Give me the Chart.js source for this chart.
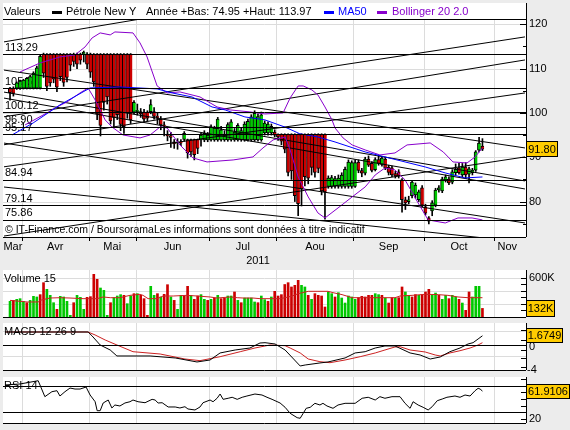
<!DOCTYPE html>
<html lang="fr">
<head>
<meta charset="UTF-8">
<title>Pétrole New York</title>
<script src="https://cdn.jsdelivr.net/npm/chart.js"></script>
<style>
  body { margin: 0; background: #ececec; }
  #wrap { position: relative; width: 570px; height: 430px; background: #ececec; }
  canvas { position: absolute; left: 0; }
</style>
</head>
<body>
<div id="wrap">
  <canvas id="priceChart" width="570" height="265" style="top:0"></canvas>
  <canvas id="volChart" width="570" height="57" style="top:265px"></canvas>
  <canvas id="macdChart" width="570" height="52" style="top:322px"></canvas>
  <canvas id="rsiChart" width="570" height="56" style="top:374px"></canvas>
</div>
<script>
// ---- data (x = trading day index, Mar 2011 .. Oct 2011) ----
const monthNames = ['Mar', 'Avr', 'Mai', 'Jun', 'Jul', 'Aou', 'Sep', 'Oct', 'Nov'];
const monthBounds = [-1.8, 3.5, 23.5, 37.5, 59.5, 79.5, 102.5, 123.5, 144.5, 152.3];

const opens = [
  105.6, 105.6, 105.6, 105.6,
  105.6, 105.6, 105.6, 105.6, 105.6, 105.6, 113.29, 113.29, 113.29, 113.29, 113.29, 113.29, 113.29, 113.29, 113.29, 113.29, 113.29, 113.29, 113.29, 113.29,
  113.29, 113.29, 113.29, 113.29, 113.29, 113.29, 113.29, 113.29, 113.29, 113.29, 113.29, 113.29, 113.29, 100.2,
  100.3, 100.3, 100.2, 100.2, 100.3, 100.3, 99.3, 98.6, 97.3, 95.0, 94.9, 93.5, 93.2, 93.4, 94.0, 94.0, 94.0, 94.0, 94.0, 93.9, 93.9, 93.9,
  93.9, 93.9, 93.9, 93.9, 93.9, 93.9, 93.9, 93.9, 93.9, 93.9, 93.9, 93.9, 93.9, 93.9, 93.9, 93.9, 95.5, 95.5, 95.5, 95.7,
  95.17, 95.17, 95.17, 95.17, 95.17, 95.17, 95.17, 95.17, 95.17, 95.17, 95.17, 95.17, 95.17, 95.17, 95.17, 83.4, 83.4, 83.4, 83.4, 83.4, 83.4, 83.4, 83.4,
  83.4, 88.9, 87.0, 86.4, 89.6, 88.6, 87.2, 89.5, 88.4, 89.6, 87.8, 87.6, 86.3, 86.7, 84.9, 80.4, 80.0, 81.3, 81.5, 80.4, 83.1,
  78.8, 76.3, 77.9, 79.2, 82.6, 82.4, 84.9, 85.1, 84.4, 86.5, 87.6, 86.0, 87.8, 86.2, 86.5, 87.1, 91.6, 92.5
];
const highs = [
  105.8, 105.9, 107.0, 107.4,
  107.6, 108.0, 108.5, 109.3, 110.6, 113.0, 113.5, 113.4, 113.4, 113.4, 113.4, 113.4, 113.4, 113.4, 113.4, 113.5, 113.5, 113.5, 113.97, 113.6,
  113.5, 113.4, 113.4, 113.4, 113.4, 113.4, 113.4, 113.4, 113.4, 113.4, 113.4, 113.4, 113.4, 102.8,
  102.0, 101.0, 100.8, 100.5, 103.0, 101.2, 100.0, 99.2, 98.0, 96.0, 95.6, 94.0, 94.2, 94.0, 95.8, 94.1, 94.1, 94.1, 94.1, 95.5, 96.0, 95.6,
  97.3, 97.0, 99.0, 97.0, 96.0, 97.8, 98.5, 96.5, 97.6, 96.6, 98.0, 98.6, 99.6, 100.5, 99.8, 100.2, 98.2, 98.0, 97.5, 96.2,
  95.3, 95.3, 95.3, 95.3, 95.3, 95.3, 95.3, 95.3, 95.3, 95.3, 95.3, 95.3, 95.3, 95.3, 95.3, 85.8, 85.9, 85.7, 86.0, 86.5, 87.8, 89.4, 89.2,
  89.4, 89.4, 87.5, 90.0, 90.3, 89.0, 89.9, 90.4, 90.2, 90.0, 88.2, 88.0, 86.8, 87.2, 85.2, 81.0, 81.2, 84.8, 84.2, 82.6, 83.6,
  79.4, 76.6, 80.2, 83.0, 83.6, 85.5, 86.0, 85.6, 87.2, 88.5, 88.6, 88.6, 88.8, 87.8, 87.5, 91.5, 94.5, 94.2
];
const lows = [
  102.9, 103.8, 105.3, 105.3,
  105.4, 105.4, 105.4, 105.4, 105.4, 105.4, 108.0, 105.0, 106.0, 106.8, 104.8, 107.3, 106.0, 107.0, 109.5, 110.5, 110.0, 111.0, 111.5, 110.0,
  108.0, 106.0, 98.5, 94.8, 100.6, 102.0, 97.5, 96.8, 98.5, 96.0, 95.4, 98.8, 97.6, 99.8,
  99.5, 99.0, 98.0, 98.2, 99.8, 98.6, 97.5, 96.2, 94.8, 93.7, 92.2, 92.0, 91.8, 92.6, 93.6, 89.8, 90.2, 89.4, 90.8, 92.5, 93.5, 93.5,
  93.6, 93.6, 93.6, 93.6, 93.6, 93.6, 93.6, 93.6, 93.6, 93.6, 93.6, 93.6, 93.6, 93.6, 93.6, 93.6, 95.0, 95.0, 95.0, 94.6,
  93.8, 92.8, 91.0, 85.8, 85.0, 80.0, 76.8, 79.0, 83.5, 84.0, 86.0, 85.5, 86.5, 81.5, 76.0, 83.0, 83.0, 83.0, 83.0, 83.0, 83.0, 83.0, 83.0,
  83.2, 86.5, 85.6, 86.0, 87.9, 86.7, 86.9, 88.2, 88.0, 87.2, 86.0, 85.6, 85.3, 85.3, 77.6, 78.2, 79.5, 80.8, 80.8, 80.0, 78.8,
  77.0, 74.95, 76.8, 78.8, 82.1, 82.0, 84.4, 83.8, 84.0, 86.0, 86.2, 85.5, 85.2, 84.2, 86.0, 86.8, 91.2, 91.5
];
const closes = [
  104.6, 104.4, 106.8, 107.2,
  107.4, 107.8, 108.2, 109.0, 110.2, 112.8, 109.0, 106.0, 106.8, 107.6, 105.8, 108.2, 106.9, 108.0, 110.8, 111.6, 111.0, 111.9, 113.7, 111.0,
  109.2, 107.0, 99.8, 97.2, 102.4, 103.6, 98.2, 99.0, 99.6, 97.4, 96.9, 100.0, 98.4, 102.4,
  100.6, 99.8, 98.6, 98.8, 101.9, 99.2, 98.9, 97.3, 97.0, 94.8, 94.5, 93.0, 93.3, 93.2, 95.4, 91.0, 91.2, 90.6, 92.0, 95.0, 95.4, 95.0,
  96.9, 96.6, 98.6, 96.2, 95.2, 97.4, 98.0, 95.7, 97.2, 96.0, 97.5, 98.1, 99.1, 99.9, 99.2, 99.6, 97.7, 97.5, 97.0, 95.0,
  94.6, 93.6, 91.8, 86.6, 86.9, 81.3, 79.5, 82.8, 85.6, 85.3, 87.7, 86.6, 87.5, 82.4, 82.2, 85.3, 85.4, 85.2, 85.3, 86.0, 87.3, 88.9, 88.8,
  88.8, 87.0, 86.4, 89.6, 88.2, 87.0, 89.5, 88.6, 89.8, 87.6, 86.6, 86.0, 85.8, 85.8, 80.4, 79.7, 80.4, 84.4, 83.7, 82.2, 79.2,
  77.4, 75.6, 79.7, 82.6, 83.1, 85.1, 85.6, 84.2, 86.7, 87.3, 86.5, 87.8, 86.0, 87.4, 87.1, 91.2, 93.2, 91.8
];

// volume in thousands, volUp: 1 = green bar, 0 = red bar
const volumes = [
  241, 256, 272, 282, 241, 220, 256, 318, 308, 344,
  528, 426, 333, 220, 118, 318, 308, 241, 26, 220,
  333, 303, 118, 303, 313, 656, 580, 446, 410, 26,
  220, 297, 323, 344, 333, 205, 323, 359, 359, 333,
  282, 26, 472, 333, 359, 308, 349, 497, 308, 256,
  118, 333, 323, 472, 333, 272, 323, 344, 272, 256,
  272, 292, 333, 282, 292, 323, 323, 385, 256, 220,
  292, 292, 292, 231, 220, 323, 267, 241, 308, 395,
  323, 344, 500,
  528, 462, 487, 564, 487, 462, 333, 272, 359, 333,
  323, 154, 385, 359, 308, 374, 292, 215, 323, 308,
  272, 297, 318, 308, 333, 333, 359, 344, 333, 292,
  215, 297, 292, 297, 462, 385, 333, 308, 344, 333,
  344, 385, 426, 333, 369, 333, 272, 333, 282, 333,
  308, 272, 215, 103, 385, 308, 472, 472, 132
];
const volUp = [
  1, 0, 1, 1, 1, 0, 1, 1, 1, 0,
  0, 1, 1, 1, 0, 1, 1, 1, 1, 0,
  1, 1, 1, 0, 0, 0, 0, 1, 1, 1,
  0, 1, 1, 1, 0, 1, 1, 0, 1, 0,
  0, 0, 1, 1, 0, 1, 0, 0, 1, 0,
  1, 1, 0, 0, 1, 0, 0, 1, 1, 0,
  1, 0, 1, 0, 0, 1, 1, 0, 1, 0,
  1, 1, 1, 1, 0, 1, 1, 0, 1, 0,
  0, 0, 0,
  0, 0, 0, 0, 1, 1, 0, 1, 0, 0,
  0, 0, 1, 1, 0, 1, 1, 1, 1, 1,
  1, 0, 0, 0, 0, 0, 1, 1, 0, 1,
  0, 0, 1, 0, 0, 1, 1, 0, 0, 1,
  0, 0, 0, 1, 1, 0, 1, 1, 0, 1,
  1, 0, 1, 0, 0, 1, 1, 1, 0
];
const volMa15 = [[0,256],[5.1,231],[8.4,231],[9,256],[11.9,292],[14.9,297],[17.9,292],[21.8,282],[26,282],[27.8,308],[29.9,297],[32.8,297],[35.8,333],[38.8,349],[39.7,333],[41.2,282],[43.9,282],[45.7,323],[48.7,323],[52.8,333],[55.8,323],[59.7,308],[61.8,292],[65.7,308],[67.8,297],[69.6,292],[72.5,292],[74.6,282],[77.6,282],[80.6,282],[82.1,297],[84.2,323],[86,359],[89,395],[91.9,395],[94.9,395],[96.4,374],[99.1,344],[102.1,297],[106.9,297],[109.9,297],[111.9,297],[114.9,297],[116.4,323],[120,333],[123.9,349],[127.8,344],[130.7,333],[133.7,308],[136.7,297],[141,297]];

const ma50 = [[0.6,95.03],[6.9,97.74],[14.9,101.81],[23.9,105.64],[32.8,105.87],[43.9,105.42],[48.4,104.51],[54.3,103.61],[60.3,101.35],[64.2,100.68],[70.1,99.1],[76.1,98.42],[82.1,96.8],[86.5,95.3],[91.9,94.58],[97,93.45],[106,91.2],[111.9,90.07],[117.9,88.94],[123.9,87.81],[129.9,86.46],[135.8,85.33],[141,85.55]];
const bollUpper = [[3,109.26],[9,111.29],[14.9,112.64],[19.4,113.09],[22.4,114.9],[24.5,116.93],[26.9,118.06],[29.9,117.61],[31.3,118.28],[36.7,118.06],[38.8,115.8],[40.9,112.64],[43.9,106.09],[46.9,104.51],[50.7,104.74],[56.7,103.61],[61.8,101.35],[65.7,100.68],[71.6,100.23],[76.1,99.77],[81.5,100],[83.6,103.39],[86,106.09],[87.5,106.09],[90.1,105.19],[91.9,104.06],[94,101.35],[96.1,98.42],[97,96.61],[99.4,94.36],[102.1,92.78],[106,91.65],[110.4,90.52],[114.9,90.97],[118.5,92.78],[125.4,93.23],[129.3,91.2],[132.2,88.94],[136.4,88.71],[138.8,90.07],[141,92.1]];
const bollLower = [[4.5,97.3],[11,100],[14,101.35],[17,102.48],[20.9,104.51],[23.3,105.64],[25.4,102.93],[28.4,98.42],[30.4,96.84],[33.7,95.03],[38.8,94.36],[41.8,95.03],[44.8,96.84],[46.9,96.61],[50.7,92.78],[54.6,89.84],[58.8,88.94],[66.6,89.39],[72.5,90.07],[75.5,92.1],[78.5,93.91],[82.1,94.58],[83.6,91.65],[86,85.55],[89,81.04],[91.9,77.43],[94,76.3],[97.9,78.56],[102.1,81.04],[106,83.3],[109,86],[111.9,87.58],[114.9,87.13],[117.9,84.88],[121.8,79.68],[124.8,75.85],[129.9,75.17],[133.7,76.3],[137.9,76.3],[141,75.85]];

// trend lines: [x1, price1, x2, price2]
const trendLines = [
  [-2.1, 116.0, 50, 122.6],
  [-2.1, 99.1, 153.7, 117.16],
  [-2.1, 92.78, 153.7, 111.96],
  [-2.1, 87.81, 153.7, 104.51],
  [-2.1, 72.18, 153.7, 90.07],
  [-2.1, 109.71, 153.7, 92.1],
  [-2.1, 104.74, 153.7, 84.65],
  [-2.1, 103.39, 153.7, 82.84],
  [-2.1, 93.23, 153.7, 75.17],
  [-2.1, 83.3, 153.7, 70.8]
];
const levels = [113.29, 105.58, 100.12, 96.90, 95.17, 84.94, 79.14, 75.86];
const priceTicks = [120, 110, 100, 90, 80];

const macdLine = [[-1.5,2.36],[23.3,2.36],[24.5,1.64],[26.9,0],[29.9,-0.91],[31.9,-2],[41.8,-2],[49.3,-2.36],[55.8,-3.09],[59.7,-2.73],[62.7,-1.45],[67.2,-0.91],[71.6,-0.55],[74.6,0.36],[76.1,0.42],[79.1,0.18],[82.1,-0.91],[86.6,-3.82],[88.1,-3.64],[92.5,-3.27],[94.9,-3.09],[100,-2.36],[103,-1.45],[106,-1.22],[109,-0.55],[111.9,-0.18],[114.9,-0.18],[119.4,-1.45],[122.4,-1.82],[125.4,-2.55],[128.4,-2.18],[131.3,-1.22],[134.3,-0.55],[136.7,0.18],[138.2,0.42],[139.7,1.09],[141,1.6749]];
const signalLine = [[-1.5,2.36],[23.3,2.36],[25.4,1.82],[28.4,0.91],[31.9,0],[36.7,-1.22],[44.8,-1.64],[52.2,-2.55],[56.7,-2.85],[62.7,-2.13],[68.7,-1.22],[73.1,-0.55],[77.6,0],[82.1,-0.13],[83.6,-0.55],[86.6,-1.45],[89,-2.55],[92.5,-3.04],[95.5,-3.22],[100,-2.73],[104.5,-2.13],[109,-1.45],[111.9,-0.91],[114.9,-0.36],[116.4,-0.31],[119.4,-0.91],[123.9,-1.27],[126.9,-1.82],[128.4,-2],[131.3,-1.45],[134.3,-1.04],[137.3,-0.55],[139.7,0],[141,0.42]];
const rsi14 = [[-1.5,71.1],[3,72.6],[8.4,77.5],[10.4,53.5],[12.5,61],[14,62.5],[14.9,54.5],[16.4,61],[17.9,66.5],[19.4,65],[20.9,65],[22.7,68],[23.9,56],[25.4,45.9],[26,32.4],[26.9,32.4],[27.8,44],[29.3,48.5],[30.4,36.5],[31.3,41],[32.8,39.5],[34.3,44],[35.8,45.9],[36.7,48.5],[38.2,45.9],[40.3,44.4],[42.4,49.5],[43.3,48.5],[44.2,44],[45.4,44.4],[47.2,38],[49.3,38],[50.7,36.5],[52.2,38.4],[53.1,35],[55.2,33.5],[56.7,38],[57.6,44.4],[59.7,48.5],[60.6,45.9],[61.8,51.1],[62.7,57.5],[63.6,49.5],[65.1,51.1],[66.3,52.6],[67.8,49.5],[69.3,52.6],[70.7,54.5],[73.1,57.5],[75.2,56],[76.7,52.6],[78.2,49.5],[80.6,44],[82.1,37.5],[83.6,28.5],[85.7,21.9],[86.6,21],[87.5,28.5],[88.4,36],[89.6,37.5],[91,43.5],[92.5,41],[93.4,43.5],[94.6,39.5],[96.4,36],[97.9,41],[100,43.5],[103,43.5],[105.1,51.1],[106.9,52.6],[109,48.5],[110.4,53.5],[111.9,51.1],[114,53.5],[116.4,53.5],[117.9,43.5],[119.4,36],[120.3,45.9],[121.8,41],[123.3,37.5],[124.8,33.5],[126,38.4],[127.5,47.4],[129,50],[130.4,52.6],[132.8,54.5],[134.3,52.6],[135.8,56],[137.3,54.5],[138.8,62.5],[139.7,66.1],[140.3,65],[141,61.9106]];

// ---- look ----
const FONT = "11px 'Liberation Sans', Arial, sans-serif";
const SMALL_FONT = "10.5px 'Liberation Sans', Arial, sans-serif";
const GREEN = '#00c800', RED = '#cc0000', BLUE = '#0000ff', PURPLE = '#8800cc', LINE_RED = '#cc2222';
const GRID = '#dcdcdc', BOX = '#ffcc00';
const PANEL_L = 3, PANEL_R = 526;
const X_MIN = -1.8, X_MAX = 154;

const toXY = pts => pts.map(p => ({ x: p[0], y: p[1] }));
const last = arr => arr[arr.length - 1];

function hline(ctx, x1, x2, y, color) {
  const yy = Math.round(y) + 0.5;
  ctx.strokeStyle = color; ctx.lineWidth = 1;
  ctx.beginPath(); ctx.moveTo(x1, yy); ctx.lineTo(x2, yy); ctx.stroke();
}
function vline(ctx, x, y1, y2, color) {
  const xx = Math.round(x) + 0.5;
  ctx.strokeStyle = color; ctx.lineWidth = 1;
  ctx.beginPath(); ctx.moveTo(xx, y1); ctx.lineTo(xx, y2); ctx.stroke();
}
function text(ctx, s, x, y, color, align, font) {
  ctx.font = font || FONT; ctx.fillStyle = color || '#000';
  ctx.textAlign = align || 'left'; ctx.textBaseline = 'middle';
  ctx.fillText(s, x, y);
}
function valueBox(ctx, s, yc, w, h) {
  const top = Math.round(yc - h / 2);
  ctx.fillStyle = BOX; ctx.fillRect(PANEL_R, top, w, h);
  ctx.strokeStyle = '#000'; ctx.lineWidth = 1;
  ctx.strokeRect(PANEL_R + 0.5, top + 0.5, w - 1, h - 1);
  text(ctx, s, PANEL_R + w / 2, top + h / 2 + 0.5, '#000', 'center');
}
function rightTicks(ctx, scale, values) {
  values.forEach(v => hline(ctx, PANEL_R - 5, PANEL_R, scale.getPixelForValue(v), '#000'));
}

// white panel, month grid and optional horizontal grid
function panelBack(chart, top, hGrid) {
  const { ctx, chartArea: a, scales: { x, y } } = chart;
  ctx.save();
  ctx.fillStyle = '#fff';
  ctx.fillRect(PANEL_L, top, PANEL_R - PANEL_L, a.bottom - top);
  monthBounds.slice(1, -1).forEach(b => vline(ctx, x.getPixelForValue(b), a.top, a.bottom, GRID));
  (hGrid || []).forEach(v => hline(ctx, PANEL_L, PANEL_R, y.getPixelForValue(v), GRID));
  ctx.restore();
}
function panelFrame(chart, top) {
  const { ctx, chartArea: a } = chart;
  hline(ctx, PANEL_L, PANEL_R, a.bottom, '#000');
  vline(ctx, PANEL_R, top, a.bottom, '#000');
}

function baseOptions(yMin, yMax, padTop, padBottom) {
  return {
    responsive: false,
    animation: false,
    events: [],
    layout: { padding: { left: 4, right: 44, top: padTop, bottom: padBottom } },
    plugins: { legend: { display: false }, tooltip: { enabled: false } },
    scales: {
      x: { type: 'linear', min: X_MIN, max: X_MAX, offset: false, display: false },
      y: { type: 'linear', min: yMin, max: yMax, display: false }
    }
  };
}
function lineSet(pts, color, order) {
  return { type: 'line', data: toXY(pts), borderColor: color, borderWidth: 1, pointRadius: 0, fill: false, order: order };
}

// ---- price panel ----
const pricePanel = {
  id: 'pricePanel',
  beforeDraw(chart) { panelBack(chart, 3, priceTicks); },
  beforeDatasetsDraw(chart) {
    const { ctx, scales: { y } } = chart;
    ctx.save();
    levels.forEach(v => text(ctx, v.toFixed(2), 5, y.getPixelForValue(v) - 6.5));
    ctx.restore();
  },
  afterDatasetsDraw(chart) {
    const { ctx, chartArea: a, scales: { x, y } } = chart;
    ctx.save();
    levels.forEach(v => hline(ctx, PANEL_L, PANEL_R, y.getPixelForValue(v), '#000'));
    hline(ctx, PANEL_L, PANEL_R, a.top, '#000');
    panelFrame(chart, 3);

    for (let v = 75; v <= 120; v += 5) {
      const py = y.getPixelForValue(v);
      hline(ctx, PANEL_R - (v % 10 === 0 ? 6 : 3), PANEL_R, py, '#000');
    }
    priceTicks.forEach(v => text(ctx, String(v), 529, y.getPixelForValue(v)));
    valueBox(ctx, last(closes).toFixed(2), y.getPixelForValue(last(closes)), 32, 16);

    // header legend
    const lo = Math.min(...lows).toFixed(2), hi = Math.max(...highs).toFixed(2);
    text(ctx, 'Valeurs', 4, 12);
    ctx.fillStyle = '#000'; ctx.fillRect(52, 11, 10, 3);
    text(ctx, 'Pétrole New Y', 66, 12);
    text(ctx, 'Année +Bas: ' + lo + ' +Haut: ' + hi, 146, 12);
    ctx.fillStyle = BLUE; ctx.fillRect(324, 11, 10, 3);
    text(ctx, 'MA50', 338, 12, BLUE);
    ctx.fillStyle = PURPLE; ctx.fillRect(377, 11, 10, 3);
    text(ctx, 'Bollinger 20 2.0', 392, 12, PURPLE);

    text(ctx, '© IT-Finance.com / BoursoramaLes informations sont données à titre indicatif', 5, 230, '#000', 'left', SMALL_FONT);

    // month axis
    monthBounds.slice(1, -1).forEach(b => vline(ctx, x.getPixelForValue(b), a.bottom, a.bottom + 4, '#000'));
    monthNames.forEach((m, k) => {
      const cx = x.getPixelForValue((monthBounds[k] + monthBounds[k + 1]) / 2);
      text(ctx, m, cx, 247, '#000', 'center');
    });
    text(ctx, '2011', x.getPixelForValue(74), 261, '#000', 'center');
    ctx.restore();
  }
};

new Chart(document.getElementById('priceChart'), {
  type: 'bar',
  data: {
    datasets: [
      {
        type: 'bar', data: closes.map((c, i) => ({ x: i, y: [lows[i], highs[i]] })),
        backgroundColor: '#000', barThickness: 1, grouped: false, order: 4
      },
      {
        type: 'bar', data: closes.map((c, i) => ({ x: i, y: [opens[i], c] })),
        backgroundColor: ctx => closes[ctx.dataIndex] >= opens[ctx.dataIndex] ? GREEN : RED,
        borderColor: '#000', borderWidth: { left: 1, right: 0, top: 1, bottom: 1 }, borderSkipped: false,
        barThickness: 3.35, grouped: false, order: 3
      },
      ...trendLines.map(t => lineSet([[t[0], t[1]], [t[2], t[3]]], '#000', 2)),
      lineSet(bollUpper, PURPLE, 1),
      lineSet(bollLower, PURPLE, 1),
      lineSet(ma50, BLUE, 0)
    ]
  },
  options: baseOptions(72, 121.2, 19, 28),
  plugins: [pricePanel]
});

// ---- volume panel ----
const volPanel = {
  id: 'volPanel',
  beforeDraw(chart) { panelBack(chart, chart.chartArea.top, [200, 400, 600]); },
  afterDatasetsDraw(chart) {
    const { ctx, chartArea: a, scales: { y } } = chart;
    ctx.save();
    panelFrame(chart, a.top);
    rightTicks(ctx, y, [100, 200, 300, 400, 500, 600]);
    text(ctx, '600K', 529, y.getPixelForValue(600));
    valueBox(ctx, last(volumes) + 'K', y.getPixelForValue(last(volumes)), 29, 17);
    text(ctx, 'Volume 15', 4, a.top + 9);
    ctx.restore();
  }
};
new Chart(document.getElementById('volChart'), {
  type: 'bar',
  data: {
    datasets: [
      {
        type: 'bar', data: volumes.map((v, i) => ({ x: i, y: v })),
        backgroundColor: ctx => volUp[ctx.dataIndex] ? GREEN : RED,
        barThickness: 2, grouped: false, order: 1
      },
      lineSet(volMa15, LINE_RED, 0)
    ]
  },
  options: baseOptions(0, 723, 5, 5),
  plugins: [volPanel]
});

// ---- MACD panel ----
const macdPanel = {
  id: 'macdPanel',
  beforeDraw(chart) { panelBack(chart, chart.chartArea.top, [2.5, -2]); },
  afterDatasetsDraw(chart) {
    const { ctx, chartArea: a, scales: { y } } = chart;
    ctx.save();
    hline(ctx, PANEL_L, PANEL_R, y.getPixelForValue(0), '#000');
    panelFrame(chart, a.top);
    rightTicks(ctx, y, [2.7, 0.9, -0.9, -2.4, -4]);
    text(ctx, '0', 529, y.getPixelForValue(0) + 2);
    text(ctx, '-4', 527, y.getPixelForValue(-4) + 2.5);
    valueBox(ctx, last(macdLine)[1].toFixed(4), y.getPixelForValue(last(macdLine)[1]), 37, 15);
    text(ctx, 'MACD 12 26 9', 4, a.top + 9);
    ctx.restore();
  }
};
new Chart(document.getElementById('macdChart'), {
  type: 'line',
  data: { datasets: [lineSet(signalLine, LINE_RED, 1), lineSet(macdLine, '#000', 0)] },
  options: baseOptions(-4.55, 4.0, 1, 4),
  plugins: [macdPanel]
});

// ---- RSI panel ----
const rsiPanel = {
  id: 'rsiPanel',
  beforeDraw(chart) { panelBack(chart, chart.chartArea.top); },
  afterDatasetsDraw(chart) {
    const { ctx, chartArea: a, scales: { y } } = chart;
    ctx.save();
    [70, 30].forEach(v => hline(ctx, PANEL_L, PANEL_R, y.getPixelForValue(v), '#000'));
    panelFrame(chart, a.top);
    rightTicks(ctx, y, [20, 40, 50, 60, 80]);
    text(ctx, '20', 529, y.getPixelForValue(20));
    valueBox(ctx, last(rsi14)[1].toFixed(4), y.getPixelForValue(last(rsi14)[1]), 44, 15);
    text(ctx, 'RSI 14', 4, a.top + 9);
    ctx.restore();
  }
};
new Chart(document.getElementById('rsiChart'), {
  type: 'line',
  data: { datasets: [lineSet(rsi14, '#000', 0)] },
  options: baseOptions(13.9, 83.1, 3, 7),
  plugins: [rsiPanel]
});
</script>
</body>
</html>
